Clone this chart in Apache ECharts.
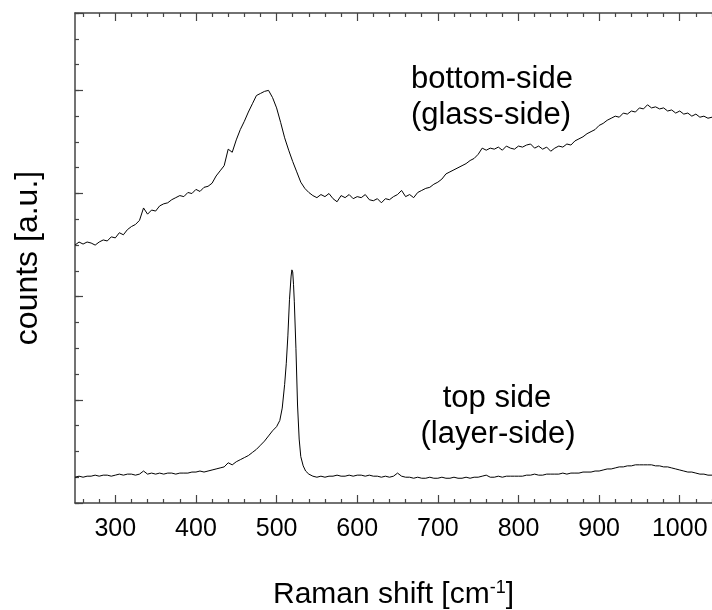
<!DOCTYPE html>
<html>
<head>
<meta charset="utf-8">
<script src="https://cdn.jsdelivr.net/npm/echarts@6/dist/echarts.min.js"></script>
<style>
html,body{margin:0;padding:0;background:#fff;}
#chart{width:712px;height:610px;}
</style>
</head>
<body>
<div id="chart"></div>
<script>
// x positions (Raman shift, cm^-1)
var glassShift = [250,255,260,265,270,275,280,285,290,295,300,305,310,315,320,325,330,335,340,345,350,355,360,365,370,375,380,385,390,395,400,405,410,415,420,425,430,435,440,445,450,455,460,465,470,475,480,485,490,495,500,505,510,515,520,525,530,535,540,545,550,555,560,565,570,575,580,585,590,595,600,605,610,615,620,625,630,635,640,645,650,655,660,665,670,675,680,685,690,695,700,705,710,715,720,725,730,735,740,745,750,755,760,765,770,775,780,785,790,795,800,805,810,815,820,825,830,835,840,845,850,855,860,865,870,875,880,885,890,895,900,905,910,915,920,925,930,935,940,945,950,955,960,965,970,975,980,985,990,995,1000,1005,1010,1015,1020,1025,1030,1035,1040];
// bottom-side (glass-side) spectrum, counts (a.u., offset)
var glassSide = [2.50,2.53,2.51,2.53,2.52,2.50,2.53,2.55,2.54,2.58,2.57,2.62,2.60,2.65,2.68,2.70,2.74,2.86,2.80,2.84,2.83,2.88,2.90,2.91,2.94,2.96,2.98,2.97,3.01,3.00,3.04,3.02,3.06,3.07,3.10,3.17,3.22,3.27,3.43,3.40,3.52,3.62,3.70,3.79,3.87,3.95,3.97,3.99,4.00,3.93,3.83,3.69,3.54,3.42,3.31,3.21,3.11,3.05,3.01,2.98,2.96,2.99,2.97,3.00,2.95,2.92,2.98,2.96,2.99,2.95,2.97,2.96,2.99,2.94,2.93,2.95,2.91,2.95,2.94,2.97,2.99,3.03,2.97,2.99,2.96,3.01,3.03,3.05,3.06,3.09,3.11,3.14,3.19,3.21,3.23,3.25,3.27,3.29,3.32,3.34,3.38,3.44,3.42,3.44,3.43,3.45,3.42,3.46,3.44,3.43,3.46,3.45,3.47,3.48,3.44,3.46,3.43,3.45,3.41,3.44,3.46,3.45,3.48,3.47,3.51,3.53,3.55,3.58,3.60,3.62,3.66,3.68,3.71,3.73,3.75,3.74,3.78,3.77,3.80,3.79,3.83,3.82,3.86,3.83,3.84,3.82,3.83,3.80,3.81,3.78,3.80,3.77,3.78,3.75,3.77,3.74,3.75,3.73,3.74];

var layerShift = [250,255,260,265,270,275,280,285,290,295,300,305,310,315,320,325,330,335,340,345,350,355,360,365,370,375,380,385,390,395,400,405,410,415,420,425,430,435,440,445,450,455,460,465,470,475,480,485,490,495,500,504,507,510,512,514,516,518,519,520,521,522,524,526,528,530,533,536,540,545,550,555,560,565,570,575,580,585,590,595,600,605,610,615,620,625,630,635,640,645,650,655,660,665,670,675,680,685,690,695,700,705,710,715,720,725,730,735,740,745,750,755,760,765,770,775,780,785,790,795,800,805,810,815,820,825,830,835,840,845,850,855,860,865,870,875,880,885,890,895,900,905,910,915,920,925,930,935,940,945,950,955,960,965,970,975,980,985,990,995,1000,1005,1010,1015,1020,1025,1030,1035,1040];
// top side (layer-side) spectrum
var layerSide = [0.25,0.26,0.25,0.26,0.26,0.27,0.26,0.27,0.27,0.26,0.27,0.28,0.27,0.28,0.28,0.27,0.28,0.31,0.28,0.29,0.28,0.29,0.28,0.29,0.29,0.28,0.29,0.29,0.29,0.30,0.30,0.31,0.30,0.31,0.32,0.33,0.34,0.35,0.39,0.37,0.40,0.42,0.44,0.46,0.49,0.52,0.56,0.60,0.65,0.70,0.74,0.80,0.92,1.15,1.35,1.62,1.97,2.20,2.26,2.24,2.12,1.95,1.50,0.95,0.62,0.45,0.36,0.31,0.28,0.26,0.25,0.26,0.25,0.26,0.26,0.27,0.26,0.26,0.27,0.26,0.27,0.27,0.26,0.27,0.26,0.26,0.25,0.26,0.25,0.26,0.29,0.26,0.25,0.25,0.24,0.25,0.24,0.24,0.25,0.24,0.24,0.25,0.24,0.24,0.25,0.24,0.24,0.25,0.24,0.25,0.25,0.26,0.27,0.25,0.25,0.26,0.25,0.26,0.26,0.26,0.26,0.26,0.27,0.27,0.28,0.27,0.27,0.28,0.28,0.28,0.28,0.29,0.28,0.29,0.29,0.29,0.30,0.30,0.30,0.31,0.31,0.32,0.33,0.33,0.34,0.35,0.35,0.36,0.36,0.37,0.37,0.37,0.37,0.37,0.36,0.36,0.35,0.35,0.34,0.33,0.32,0.31,0.30,0.30,0.29,0.28,0.28,0.27,0.27];

// tick values
var majorTicks = [300,400,500,600,700,800,900,1000];
var minorTicks = [260,280,320,340,360,380,420,440,460,480,520,540,560,580,620,640,660,680,720,740,760,780,820,840,860,880,920,940,960,980,1020,1040];

var labels = [
  {text:'bottom-side', x:492, y:79},
  {text:'(glass-side)', x:491, y:115},
  {text:'top side', x:497, y:398},
  {text:'(layer-side)', x:498, y:434}
];

function zip(xs, ys){ var r=[]; for (var i=0;i<xs.length;i++) r.push([xs[i], ys[i]]); return r; }

var FONT = 'Liberation Sans, Arial, sans-serif';
var AX = '#444';
var chart = echarts.init(document.getElementById('chart'), null, {renderer:'canvas'});

function xAx(pos, ticks, len, showLine, showLabel, extra){
  var o = {
    type:'value', position:pos, min:250, max:1040,
    axisLine:{show:showLine, onZero:false, lineStyle:{color:AX, width:1.5}},
    axisTick:{show:true, inside:true, length:len, customValues:ticks, lineStyle:{color:AX, width:1.2}},
    axisLabel:{show:showLabel, customValues:ticks, fontSize:25, color:'#000', fontFamily:FONT, margin:14,
      formatter:function(v){ return String(v); }},
    splitLine:{show:false}
  };
  if (extra) for (var k in extra) o[k]=extra[k];
  return o;
}

var option = {
  animation:false,
  backgroundColor:'#fff',
  grid:{left:75, right:0, top:13, bottom:107, containLabel:false, outerBoundsMode:'none'},
  xAxis:[
    xAx('bottom', majorTicks, 8, true, true, {
      name:'Raman shift [cm{sup|-1}]', nameLocation:'middle', nameGap:76,
      nameTextStyle:{fontSize:30, color:'#000', fontFamily:FONT, lineHeight:32,
        rich:{sup:{fontSize:18, color:'#000', fontFamily:FONT, verticalAlign:'top', lineHeight:32, padding:[0,0,14,0]}}}
    }),
    xAx('bottom', minorTicks, 4, false, false),
    xAx('top', majorTicks, 8, true, false),
    xAx('top', minorTicks, 4, false, false)
  ],
  yAxis:[
    {type:'value', min:0, max:4.75, interval:1, position:'left',
     name:'counts [a.u.]', nameLocation:'middle', nameGap:31, nameRotate:90,
     nameTextStyle:{fontSize:32, color:'#000', fontFamily:FONT},
     axisLine:{show:true, onZero:false, lineStyle:{color:AX, width:1.5}},
     axisTick:{show:true, inside:true, length:8, lineStyle:{color:AX, width:1.2}},
     axisLabel:{show:false}, splitLine:{show:false}},
    {type:'value', min:0, max:4.75, interval:0.25, position:'left', offset:0,
     axisLine:{show:false},
     axisTick:{show:true, inside:true, length:4, lineStyle:{color:AX, width:1.2}},
     axisLabel:{show:false}, splitLine:{show:false}}
  ],
  series:[
    {type:'line', xAxisIndex:0, yAxisIndex:0, data:zip(glassShift, glassSide), showSymbol:false, symbol:'none',
     lineStyle:{color:'#000', width:1}, sampling:false, silent:true},
    {type:'line', xAxisIndex:0, yAxisIndex:0, data:zip(layerShift, layerSide), showSymbol:false, symbol:'none',
     lineStyle:{color:'#000', width:1}, sampling:false, silent:true}
  ],
  graphic: labels.map(function(l){
    return {type:'text', x:l.x, y:l.y, silent:true,
      style:{text:l.text, fontSize:31, fontFamily:FONT, fill:'#000', align:'center', verticalAlign:'middle'}};
  })
};
chart.setOption(option);
</script>
</body>
</html>
